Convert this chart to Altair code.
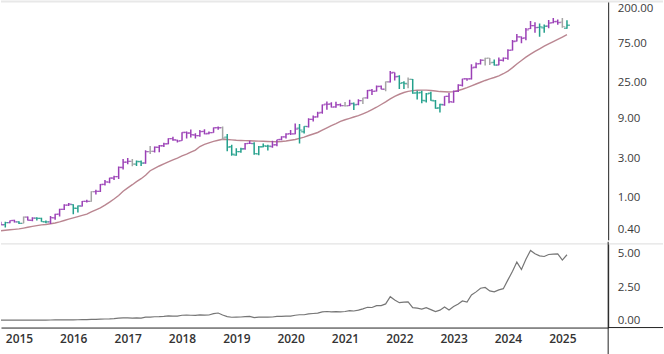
import altair as alt
import pandas as pd

# Monthly bars, Sep 2014 .. Feb 2025
months = pd.date_range("2014-09-01", "2025-02-01", freq="MS").strftime("%Y-%m-%d").tolist()

open_ = [0.497, 0.462, 0.49, 0.52, 0.50, 0.48, 0.57, 0.52, 0.555, 0.55, 0.50, 0.50, 0.56, 0.62, 0.71, 0.80,
         0.81, 0.73, 0.78, 0.89, 0.89, 1.17, 1.18, 1.43, 1.53, 1.71, 1.78, 2.30,
         2.68, 2.73, 2.53, 2.72, 2.61, 3.60, 3.62, 4.06, 4.24, 4.48, 5.17, 4.97,
         4.90, 6.17, 6.06, 5.73, 5.63, 6.34, 5.98, 6.12, 7.04, 7.05, 5.39, 4.12,
         3.25, 3.60, 3.90, 4.52, 4.50, 3.38, 4.12, 4.18, 4.15, 4.36, 5.05, 5.45,
         5.96, 5.90, 6.95, 6.28, 7.26, 8.87, 9.55, 10.79, 13.62, 13.71, 12.63, 13.44,
         13.11, 13.05, 13.90, 13.53, 15.06, 16.24, 20.10, 19.70, 22.40, 20.70, 25.52, 33.20,
         29.8, 25.0, 23.9, 27.3, 18.7, 18.9, 14.9, 18.5, 14.9, 12.3, 13.4, 17.0,
         14.4, 19.5, 23.1, 27.8, 27.8, 38.4, 42.5, 46.5, 49.7, 44.0, 40.9, 46.6,
         49.2, 62.1, 80.0, 90.3, 87.7, 113.5, 123.5, 117.5, 116.0, 121.8, 134.7, 138.8,
         136.0, 114.8]
high = [0.503, 0.50, 0.52, 0.53, 0.51, 0.58, 0.58, 0.57, 0.57, 0.56, 0.52, 0.59, 0.63, 0.72, 0.82, 0.85,
        0.82, 0.79, 0.90, 0.93, 1.18, 1.23, 1.45, 1.62, 1.72, 1.82, 2.36, 2.93,
        3.00, 2.93, 2.80, 2.81, 3.74, 4.21, 4.15, 4.33, 4.62, 5.23, 5.47, 5.02,
        6.21, 6.31, 6.67, 6.04, 6.59, 6.73, 6.34, 7.05, 7.30, 7.29, 5.91, 4.35,
        3.95, 4.00, 4.57, 4.87, 4.67, 4.20, 4.52, 4.37, 4.86, 5.03, 5.53, 6.00,
        6.58, 7.89, 7.80, 7.35, 9.19, 9.89, 10.98, 13.49, 14.71, 14.40, 14.61, 13.92,
        14.47, 15.43, 14.24, 15.68, 16.36, 20.22, 20.87, 23.07, 23.00, 25.72, 34.65, 33.20,
        30.7, 26.0, 28.9, 27.6, 19.9, 19.8, 18.7, 19.3, 15.3, 13.8, 17.0, 18.7,
        20.0, 23.9, 27.9, 28.1, 41.9, 43.9, 48.1, 50.2, 49.8, 47.6, 50.5, 50.4,
        63.5, 82.3, 97.4, 90.9, 115.8, 140.8, 136.2, 131.3, 127.7, 144.4, 152.9, 146.5,
        153.1, 143.4]
low = [0.458, 0.428, 0.48, 0.49, 0.47, 0.48, 0.52, 0.51, 0.52, 0.50, 0.48, 0.47, 0.53, 0.58, 0.70, 0.78,
       0.62, 0.65, 0.77, 0.86, 0.88, 1.08, 1.16, 1.39, 1.48, 1.62, 1.67, 2.18,
       2.52, 2.39, 2.40, 2.40, 2.55, 3.36, 3.50, 3.54, 4.10, 4.43, 4.87, 4.65,
       4.87, 5.21, 5.33, 5.20, 5.45, 5.86, 5.85, 6.12, 6.62, 4.98, 3.62, 3.19,
       3.19, 3.49, 3.80, 4.45, 3.30, 3.24, 4.06, 3.70, 4.02, 4.18, 4.95, 5.18,
       5.72, 5.86, 4.51, 5.98, 7.07, 8.37, 9.40, 10.43, 11.68, 12.40, 12.31, 12.75,
       12.73, 12.93, 11.53, 13.23, 13.73, 15.84, 17.59, 19.46, 20.68, 19.56, 24.96, 26.50,
       20.8, 20.8, 21.3, 18.2, 15.5, 14.0, 14.3, 15.0, 11.98, 10.81, 13.0, 14.0,
       14.2, 19.2, 22.3, 26.2, 27.2, 37.4, 41.4, 40.3, 40.9, 40.3, 40.7, 45.0,
       47.3, 61.6, 79.4, 75.6, 81.9, 112.5, 101.4, 90.7, 100.9, 115.1, 132.1, 126.9,
       116.3, 113.0]
close = [0.461, 0.489, 0.518, 0.501, 0.48, 0.57, 0.523, 0.555, 0.553, 0.503, 0.499, 0.563, 0.616, 0.71, 0.80, 0.824,
         0.733, 0.783, 0.891, 0.888, 1.17, 1.175, 1.428, 1.533, 1.713, 1.78, 2.305, 2.668,
         2.73, 2.53, 2.723, 2.603, 3.603, 3.615, 4.063, 4.24, 4.47, 5.17, 5.018, 4.838,
         6.145, 6.048, 5.79, 5.623, 6.31, 5.923, 6.123, 7.025, 7.025, 5.27, 4.088, 3.338,
         3.595, 3.868, 4.49, 4.523, 3.388, 4.105, 4.218, 4.188, 4.353, 5.025, 5.433, 5.883,
         5.91, 6.76, 6.59, 7.308, 8.875, 9.498, 10.615, 13.378, 13.53, 12.535, 13.403, 13.055,
         12.98, 13.715, 13.348, 15.01, 16.245, 20.003, 19.50, 22.38, 20.72, 25.57, 32.67, 29.41,
         24.49, 24.36, 27.29, 18.55, 18.66, 15.16, 18.16, 15.09, 12.14, 13.50, 16.92, 14.61,
         19.54, 23.22, 27.78, 27.75, 37.83, 42.30, 46.73, 49.35, 43.50, 40.78, 46.77, 49.52,
         61.53, 79.11, 90.36, 86.40, 109.63, 123.54, 117.02, 119.37, 121.44, 132.76, 138.25, 134.29,
         120.07, 124.92]
# bar colour class: p = purple, t = teal, g = grey
bar_class = list("ptpp"            # 2014 Sep-Dec
                 "tgpptttppppp"    # 2015
                 "ttppgppppppp"    # 2016
                 "pgttpgpppppp"    # 2017
                 "pppppppppgtt"    # 2018
                 "ttppttttpppp"    # 2019
                 "ppttpppppppp"    # 2020
                 "gptpgppppgpp"    # 2021
                 "ttgtttttttpp"    # 2022
                 "pppppppggtpp"    # 2023
                 "pppppppttppp"    # 2024
                 "gt")             # 2025
# moving average line
ma = [0.39, 0.395, 0.40, 0.405, 0.41, 0.42, 0.43, 0.44, 0.45, 0.46, 0.465, 0.474, 0.485, 0.50, 0.52, 0.54,
      0.56, 0.58, 0.60, 0.62, 0.66, 0.70, 0.74, 0.80, 0.87, 0.95, 1.05, 1.18,
      1.30, 1.42, 1.55, 1.68, 1.85, 2.10, 2.25, 2.40, 2.55, 2.70, 2.85, 3.00,
      3.18, 3.35, 3.55, 3.75, 4.15, 4.40, 4.60, 4.80, 4.95, 5.08, 5.05, 5.00,
      4.95, 4.92, 4.90, 4.88, 4.85, 4.82, 4.80, 4.78, 4.76, 4.75, 4.78, 4.85,
      4.95, 5.05, 5.22, 5.40, 5.65, 5.90, 6.15, 6.55, 7.00, 7.45, 7.90, 8.40,
      8.80, 9.15, 9.50, 9.85, 10.4, 11.0, 11.7, 12.5, 13.5, 14.5, 15.8, 17.0,
      18.0, 18.9, 19.5, 19.9, 20.1, 20.2, 20.2, 20.0, 19.7, 19.4, 19.3, 19.2,
      19.4, 20.0, 20.7, 21.7, 22.8, 24.0, 25.2, 26.5, 27.7, 28.8, 30.2, 32.0,
      34.5, 38.0, 42.0, 46.5, 51.0, 55.5, 60.0, 64.5, 69.5, 74.0, 79.0, 84.0,
      89.5, 95.7]
# lower panel line
lower = [0.03, 0.03, 0.035, 0.035, 0.035, 0.04, 0.04, 0.04, 0.04, 0.04, 0.04, 0.045, 0.05, 0.055, 0.06, 0.065,
         0.06, 0.065, 0.07, 0.07, 0.09, 0.09, 0.11, 0.12, 0.13, 0.15, 0.18, 0.20,
         0.21, 0.19, 0.20, 0.19, 0.26, 0.26, 0.29, 0.30, 0.32, 0.36, 0.34, 0.33,
         0.40, 0.41, 0.40, 0.39, 0.43, 0.41, 0.42, 0.52, 0.57, 0.42, 0.30, 0.25,
         0.26, 0.27, 0.30, 0.32, 0.22, 0.26, 0.26, 0.26, 0.27, 0.31, 0.32, 0.34,
         0.34, 0.40, 0.44, 0.44, 0.50, 0.53, 0.56, 0.65, 0.68, 0.66, 0.67, 0.66,
         0.68, 0.75, 0.72, 0.78, 0.88, 1.00, 0.98, 1.12, 1.12, 1.25, 1.79, 1.55,
         1.34, 1.39, 1.40, 0.97, 0.93, 0.86, 0.97, 0.82, 0.67, 0.78, 1.02, 0.80,
         1.05, 1.25, 1.47, 1.39, 1.92, 2.15, 2.42, 2.48, 2.22, 2.16, 2.30, 2.39,
         3.05, 3.70, 4.38, 3.83, 4.60, 5.25, 5.00, 4.85, 4.80, 4.95, 4.98, 5.00,
         4.53, 4.93]

top_ticks = [0.4, 1, 3, 9, 25, 75, 200]
low_ticks = [0, 2.5, 5]
years = list(range(2015, 2026))

n = len(months)
assert all(len(a) == n for a in [open_, high, low, close, ma, lower, bar_class])

df = pd.DataFrame({"date": months, "open": open_, "high": high, "low": low, "close": close,
                   "ma": ma, "lower": lower, "cls": bar_class})
one = pd.DataFrame({"a": [0]})

PURPLE, TEAL, GREY = "#9b40b6", "#23a08c", "#a5a5a5"
MA_COL = "#ba8691"
FONT = "Open Sans"
W, H_TOP, H_BOT = 609, 240, 84

xscale = alt.Scale(type="utc", domain=[alt.DateTime(year=2014, month=9, date=2, utc=True),
                                        alt.DateTime(year=2025, month=11, date=5, utc=True)])
x_noaxis = alt.X("date:T", scale=xscale, axis=None)
ytop_scale = alt.Scale(type="log", domain=[0.302, 250], nice=False)
color = alt.Color("cls:N", scale=alt.Scale(domain=["p", "t", "g"], range=[PURPLE, TEAL, GREY]), legend=None)

yaxis_top = alt.Axis(orient="right", values=top_ticks, format=".2f", grid=False, ticks=False,
                     domainColor="#222", domainWidth=1, labelPadding=9, labelFont=FONT,
                     labelFontSize=11.5, labelColor="#3a3a3a", title=None, labelOverlap=False,
                     labelFlush=False)

base = alt.Chart(df)
ma_line = base.mark_line(color=MA_COL, strokeWidth=1.4, clip=True).encode(
    x=x_noaxis, y=alt.Y("ma:Q", scale=ytop_scale, axis=yaxis_top))
hl = base.mark_rule(strokeWidth=1.5, clip=True).encode(
    x=x_noaxis, y=alt.Y("low:Q", scale=ytop_scale), y2="high:Q", color=color)
op = base.mark_tick(orient="horizontal", size=3, thickness=1.3, xOffset=-1.5, clip=True).encode(
    x=x_noaxis, y=alt.Y("open:Q", scale=ytop_scale), color=color)
cl = base.mark_tick(orient="horizontal", size=3, thickness=1.3, xOffset=1.5, clip=True).encode(
    x=x_noaxis, y=alt.Y("close:Q", scale=ytop_scale), color=color)
top_border = alt.Chart(one).mark_rule(color="#e8e8e8", strokeWidth=2).encode(
    x=alt.value(0), x2=alt.value(664), y=alt.value(1))

top = alt.layer(top_border, ma_line, hl, op, cl).properties(width=W, height=H_TOP)

xaxis = alt.Axis(values=[alt.DateTime(year=y, month=1, date=1, utc=True) for y in years],
                 format="%Y", ticks=False, grid=False, domainColor="#222", domainWidth=1,
                 labelFont=FONT, labelFontWeight=600, labelFontSize=12, labelColor="#333",
                 labelPadding=6, labelFlush=False, labelOverlap=False, title=None)
yaxis_bot = alt.Axis(orient="right", values=low_ticks, format=".2f", grid=False, ticks=False,
                     domainColor="#222", domainWidth=1, labelPadding=9, labelFont=FONT,
                     labelFontSize=11.5, labelColor="#3a3a3a", title=None, labelOverlap=False,
                     labelFlush=False)

sep = alt.Chart(one).mark_rule(color="#e3e3e3", strokeWidth=1.2).encode(
    x=alt.value(0), x2=alt.value(664), y=alt.value(0))
lower_line = base.mark_line(color="#767676", strokeWidth=1.2, clip=True).encode(
    x=alt.X("date:T", scale=xscale, axis=xaxis),
    y=alt.Y("lower:Q", scale=alt.Scale(domain=[-0.52, 5.75], nice=False, zero=False), axis=yaxis_bot))
x_ext = alt.Chart(one).mark_rule(color="#222", strokeWidth=1).encode(
    x=alt.value(W), x2=alt.value(664), y=alt.value(H_BOT))
v_ext = alt.Chart(one).mark_rule(color="#222", strokeWidth=1).encode(
    x=alt.value(W), y=alt.value(-2), y2=alt.value(H_BOT + 29))

bottom = alt.layer(sep, lower_line, x_ext, v_ext).properties(width=W, height=H_BOT)

chart = alt.vconcat(top, bottom, spacing=1).configure_view(stroke=None).properties(
    padding=0, background="white")

chart.save("out.html", embed_options={"renderer": "svg", "actions": False})
